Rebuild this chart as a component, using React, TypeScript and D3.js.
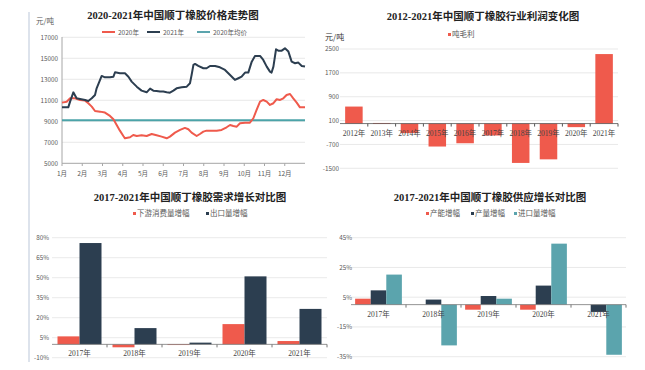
import React from "react";
import * as d3 from "d3";

// ---- price trend 2020/2021 (x = month position, 0 = 1月 start) ----
const months = ["1月", "2月", "3月", "4月", "5月", "6月", "7月", "8月", "9月", "10月", "11月", "12月"];
const price2020: [number, number][] = [
    [0, 10780], [0.23, 10870], [0.4, 11190], [0.64, 11190], [0.89, 11030], [1.14, 10970], [1.3, 10720],
    [1.47, 10400], [1.63, 9980], [1.88, 9920], [2.12, 9830], [2.37, 9510], [2.54, 9190], [2.7, 8650],
    [2.86, 8110], [3.03, 7600], [3.11, 7380], [3.36, 7480], [3.52, 7700], [3.69, 7600], [3.93, 7670],
    [4.18, 7600], [4.43, 7790], [4.67, 7670], [4.92, 7540], [5.17, 7380], [5.33, 7540], [5.58, 7920],
    [5.83, 8180], [6.07, 8370], [6.24, 8240], [6.4, 7920], [6.65, 7600], [6.81, 7790], [6.98, 8020],
    [7.14, 8110], [7.39, 8110], [7.64, 8110], [7.88, 8180], [8.13, 8430], [8.3, 8650], [8.46, 8560],
    [8.63, 8490], [8.79, 8810], [9.04, 8870], [9.28, 8870], [9.45, 9290], [9.61, 10080], [9.78, 10870],
    [9.94, 11030], [10.11, 10870], [10.27, 10560], [10.44, 10720], [10.6, 11100], [10.77, 11030],
    [10.93, 11190], [11.09, 11510], [11.26, 11600], [11.42, 11190], [11.59, 10780], [11.75, 10330], [12, 10330]
];
const price2021: [number, number][] = [
    [0, 10330], [0.31, 10330], [0.4, 10870], [0.56, 11760], [0.72, 11190], [0.89, 11130], [1.14, 11030],
    [1.3, 10940], [1.47, 11190], [1.63, 11510], [1.71, 12140], [1.88, 12940], [1.96, 13320], [2.12, 13190],
    [2.37, 13190], [2.54, 13250], [2.62, 13670], [2.86, 13570], [3.11, 13570], [3.28, 13250], [3.44, 12780],
    [3.69, 12300], [3.93, 11920], [4.18, 11760], [4.35, 12110], [4.51, 11920], [4.67, 11890], [4.84, 11830],
    [5.0, 11830], [5.17, 11760], [5.33, 11730], [5.5, 11920], [5.66, 12140], [5.91, 12240], [6.16, 12300],
    [6.32, 12620], [6.4, 13410], [6.49, 14370], [6.57, 14460], [6.73, 14270], [6.98, 14050], [7.14, 14050],
    [7.31, 14270], [7.56, 14270], [7.8, 14140], [8.05, 13890], [8.3, 13410], [8.46, 13100], [8.54, 12940],
    [8.71, 13100], [8.87, 13250], [9.04, 13640], [9.2, 13640], [9.37, 14680], [9.53, 15220], [9.78, 15220],
    [9.94, 14840], [10.11, 14210], [10.27, 13730], [10.35, 13640], [10.44, 14210], [10.57, 15860],
    [10.68, 15730], [10.85, 15730], [11.01, 15950], [11.18, 15640], [11.34, 14680], [11.51, 14530],
    [11.67, 14590], [11.84, 14270], [12, 14210]
];
const avg2020 = 9100;
const priceTicks = [5000, 7000, 9000, 11000, 13000, 15000, 17000];

// ---- profit 2012-2021 ----
const profitYears = ["2012年", "2013年", "2014年", "2015年", "2016年", "2017年", "2018年", "2019年", "2020年", "2021年"];
const profitValues = [570, 20, -320, -770, -660, -400, -1320, -1200, -120, 2330];
const profitTicks = [-1500, -700, 100, 900, 1700, 2500];

// ---- demand growth ----
const growthYears = ["2017年", "2018年", "2019年", "2020年", "2021年"];
const downstreamGrowth = [6.0, -2.2, -0.5, 15.2, 2.5];
const exportGrowth = [76, 12.2, 1.3, 51, 26.6];
const demandTicks = [-10, 5, 20, 35, 50, 65, 80];

// ---- supply growth ----
const capacityGrowth = [4.0, 0, -3.4, -3.4, 0];
const outputGrowth = [9.6, 3.4, 5.8, 12.8, -4.9];
const importGrowth = [20.2, -27.4, 4.0, 41, -33.7];
const supplyTicks = [-35, -15, 5, 25, 45];

const RED = "#ef5a4c";
const NAVY = "#2c3e50";
const TEAL = "#5ba4ad";
const GRID = "#e3e3e3";
const AXIS = "#a6a6a6";
const LABEL = "#595959";
const TITLE_FONT = "'Liberation Serif', 'Noto Sans CJK SC', serif";
const SANS = "'Noto Sans CJK SC', 'Liberation Sans', sans-serif";

function Title({ x, y, text }: { x: number; y: number; text: string }) {
    return (
        <text x={x} y={y} textAnchor="middle" fontFamily={TITLE_FONT} fontWeight="bold" fontSize={10.5} fill="#222">
            {text}
        </text>
    );
}

function LegendSwatch({ x, y, color, text }: { x: number; y: number; color: string; text: string }) {
    return (
        <g>
            <rect x={x} y={y - 4} width={3} height={3} fill={color} />
            <text x={x + 4} y={y} fontFamily={SANS} fontSize={7.5} fill={LABEL}>{text}</text>
        </g>
    );
}

function PriceChart() {
    const x = d3.scaleLinear().domain([0, 12]).range([62, 305]);
    const y = d3.scaleLinear().domain([5000, 17000]).range([163.3, 37.3]);
    const line = d3.line<[number, number]>().x(d => x(d[0])).y(d => y(d[1]));
    const legend = [
        { color: RED, text: "2020年", x: 102 },
        { color: NAVY, text: "2021年", x: 147 },
        { color: TEAL, text: "2020年均价", x: 197 }
    ];
    return (
        <g>
            <Title x={173} y={19} text="2020-2021年中国顺丁橡胶价格走势图" />
            <text x={36} y={24} fontFamily={SANS} fontSize={7.5} fill={LABEL}>元/吨</text>
            {legend.map(l => (
                <g key={l.text}>
                    <line x1={l.x} x2={l.x + 13} y1={32} y2={32} stroke={l.color} strokeWidth={2} />
                    <text x={l.x + 16} y={34.5} fontFamily={SANS} fontSize={6.5} fill={LABEL}>{l.text}</text>
                </g>
            ))}
            {priceTicks.map(t => (
                <g key={t}>
                    {t > 5000 && <line x1={62} x2={305} y1={y(t)} y2={y(t)} stroke={GRID} strokeWidth={0.8} />}
                    <text x={58} y={y(t) + 2.3} textAnchor="end" fontFamily={SANS} fontSize={6.3} fill={LABEL}>{t}</text>
                </g>
            ))}
            <line x1={62} x2={62} y1={37} y2={163.3} stroke={AXIS} />
            <line x1={62} x2={305} y1={163.3} y2={163.3} stroke={AXIS} />
            {months.map((m, i) => (
                <g key={m}>
                    <line x1={x(i)} x2={x(i)} y1={163.3} y2={166} stroke={AXIS} />
                    <text x={x(i)} y={176} textAnchor="middle" fontFamily={SANS} fontSize={6.5} fill={LABEL}>{m}</text>
                </g>
            ))}
            <line x1={x(0)} x2={x(12)} y1={y(avg2020)} y2={y(avg2020)} stroke="#4ba3a8" strokeWidth={1.8} />
            <path d={line(price2020) || ""} fill="none" stroke={RED} strokeWidth={2} strokeLinejoin="round" />
            <path d={line(price2021) || ""} fill="none" stroke={NAVY} strokeWidth={2} strokeLinejoin="round" />
        </g>
    );
}

function ProfitChart() {
    const x = d3.scaleBand<string>().domain(profitYears).range([340, 618]).paddingInner(0.37).paddingOuter(0.185);
    const y = d3.scaleLinear().domain([-1500, 2500]).range([168.3, 49]);
    const step = x.step();
    return (
        <g>
            <Title x={483} y={20} text="2012-2021年中国顺丁橡胶行业利润变化图" />
            <text x={325} y={40} fontFamily={SANS} fontSize={8} fill="#333">元/吨</text>
            <LegendSwatch x={448} y={37} color={RED} text="吨毛利" />
            {profitTicks.map(t => (
                <g key={t}>
                    <line x1={340} x2={618} y1={y(t)} y2={y(t)} stroke={GRID} strokeWidth={0.8} />
                    <text x={339} y={y(t) + 2.3} textAnchor="end" fontFamily={SANS} fontSize={6.3} fill={LABEL}>{t}</text>
                </g>
            ))}
            {profitValues.map((v, i) => (
                <rect key={i} x={x(profitYears[i])} width={x.bandwidth()}
                    y={y(Math.max(0, v))} height={Math.max(0.8, Math.abs(y(v) - y(0)))} fill={RED} />
            ))}
            <line x1={340} x2={618} y1={y(0)} y2={y(0)} stroke="#555" strokeWidth={0.8} />
            {profitYears.map((c, i) => (
                <g key={c}>
                    <line x1={340 + step * (i + 1)} x2={340 + step * (i + 1)} y1={y(0)} y2={y(0) + 3} stroke="#555" />
                    <text x={(x(c) || 0) + x.bandwidth() / 2} y={135.5} textAnchor="middle" fontFamily={TITLE_FONT}
                        fontSize={7.5} fill="#444">{c}</text>
                </g>
            ))}
        </g>
    );
}

function GroupedBars({ series, colors, ticks, domain, yRange, xRange, padInner, labelX, labelY, catY }:
    {
        series: number[][]; colors: string[]; ticks: number[]; domain: [number, number];
        yRange: [number, number]; xRange: [number, number]; padInner: number; labelX: number; labelY?: number; catY: number
    }) {
    const x = d3.scaleBand<string>().domain(growthYears).range(xRange).paddingInner(padInner).paddingOuter(padInner / 2);
    const inner = d3.scaleBand<number>().domain(series.map((_, i) => i)).range([0, x.bandwidth()]);
    const y = d3.scaleLinear().domain(domain).range(yRange);
    const step = x.step();
    return (
        <g>
            {ticks.map(t => (
                <g key={t}>
                    <line x1={xRange[0]} x2={xRange[1]} y1={y(t)} y2={y(t)} stroke={GRID} strokeWidth={0.8} />
                    <text x={labelX} y={y(t) + 2.3} textAnchor="end" fontFamily={SANS} fontSize={6.3} fill={LABEL}>{t}%</text>
                </g>
            ))}
            {growthYears.map((c, ci) => series.map((s, si) => (
                <rect key={c + si} x={(x(c) || 0) + (inner(si) || 0)} width={inner.bandwidth()}
                    y={y(Math.max(0, s[ci]))} height={Math.abs(y(s[ci]) - y(0))} fill={colors[si]} />
            )))}
            <line x1={xRange[0]} x2={xRange[1]} y1={y(0)} y2={y(0)} stroke="#777" strokeWidth={0.8} />
            {growthYears.map((c, i) => (
                <g key={c}>
                    <line x1={xRange[0] + step * (i + 1)} x2={xRange[0] + step * (i + 1)} y1={y(0)} y2={y(0) + 3} stroke="#777" />
                    <text x={(x(c) || 0) + x.bandwidth() / 2} y={catY} textAnchor="middle" fontFamily={TITLE_FONT}
                        fontSize={7.5} fill="#444">{c}</text>
                </g>
            ))}
        </g>
    );
}

export default function App() {
    return (
        <svg width={645} height={370} style={{ position: "absolute", left: 0, top: 0, background: "#fff" }}>
            <rect width={645} height={370} fill="#fff" />
            <line x1={29} x2={29} y1={12} y2={362} stroke="#dde3ec" strokeWidth={2} />
            <PriceChart />
            <ProfitChart />

            <Title x={190} y={201} text="2017-2021年中国顺丁橡胶需求增长对比图" />
            <LegendSwatch x={133} y={216} color={RED} text="下游消费量增幅" />
            <LegendSwatch x={206} y={216} color={NAVY} text="出口量增幅" />
            <GroupedBars series={[downstreamGrowth, exportGrowth]} colors={[RED, NAVY]} ticks={demandTicks}
                domain={[-10, 80]} yRange={[357.7, 237.7]} xRange={[52, 327]} padInner={0.2} labelX={49} catY={355.5} />

            <Title x={490} y={201} text="2017-2021年中国顺丁橡胶供应增长对比图" />
            <LegendSwatch x={426} y={216} color={RED} text="产能增幅" />
            <LegendSwatch x={471} y={216} color={NAVY} text="产量增幅" />
            <LegendSwatch x={514} y={216} color={TEAL} text="进口量增幅" />
            <GroupedBars series={[capacityGrowth, outputGrowth, importGrowth]} colors={[RED, NAVY, TEAL]} ticks={supplyTicks}
                domain={[-35, 45]} yRange={[356.7, 237.7]} xRange={[351, 626]} padInner={0.15} labelX={352} catY={317} />
        </svg>
    );
}
